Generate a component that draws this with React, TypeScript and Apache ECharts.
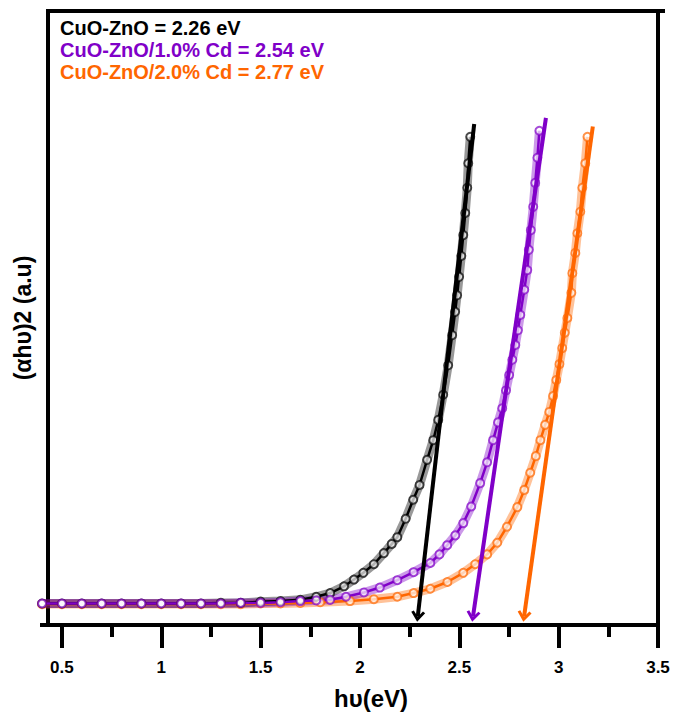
import React, { useEffect, useRef } from 'react';
import * as echarts from 'echarts';

// ---- axis ticks ----
const majorTicks = [0.5, 1, 1.5, 2, 2.5, 3, 3.5];
const minorTicks = [0.75, 1.25, 1.75, 2.25, 2.75, 3.25];

// ---- legend / series info ----
const sampleNames = ['CuO-ZnO', 'CuO-ZnO/1.0% Cd', 'CuO-ZnO/2.0% Cd'];
const bandGaps = ['2.26', '2.54', '2.77'];
const sampleColors = ['#000000', '#8000C8', '#FF6600'];

// ---- measured Tauc data: [hv (eV), (alpha hv)^2 (a.u.)] ----
const cuoZno: [number, number][] = [
  [0.4, 3.5], [0.5, 3.5], [0.6, 3.5], [0.7, 3.5], [0.8, 3.5], [0.9, 3.5], [1.0, 3.5],
  [1.1, 3.5], [1.2, 3.5], [1.3, 3.6], [1.4, 3.6], [1.5, 3.8], [1.6, 3.9], [1.7, 4.1],
  [1.78, 4.6], [1.85, 5.2], [1.92, 6.3], [1.97, 7.4], [2.017, 8.5], [2.07, 9.9],
  [2.12, 11.7], [2.16, 13.2], [2.188, 14.3], [2.23, 17.3], [2.268, 20.4], [2.3, 22.8],
  [2.338, 26.9], [2.369, 30.1], [2.394, 33.4], [2.419, 37.5], [2.444, 42.3], [2.464, 47.2],
  [2.479, 51.0], [2.489, 53.7], [2.499, 56.7], [2.51, 60.1], [2.52, 63.5], [2.53, 67.1],
  [2.54, 71.2], [2.545, 75.2], [2.555, 79.5],
];
const cuoZnoCd1: [number, number][] = [
  [0.4, 3.5], [0.5, 3.5], [0.6, 3.5], [0.7, 3.5], [0.8, 3.5], [0.9, 3.5], [1.0, 3.5],
  [1.1, 3.5], [1.2, 3.5], [1.3, 3.5], [1.4, 3.6], [1.5, 3.6], [1.6, 3.7], [1.7, 3.9],
  [1.78, 4.0], [1.85, 4.1], [1.93, 4.6], [2.02, 5.3], [2.1, 6.1], [2.188, 7.3],
  [2.27, 8.6], [2.354, 10.1], [2.4, 11.5], [2.439, 13.0], [2.48, 14.6], [2.52, 16.6],
  [2.56, 19.3], [2.605, 23.1], [2.64, 26.5], [2.67, 30.1], [2.695, 33.0], [2.716, 35.3],
  [2.735, 38.2], [2.751, 40.7], [2.767, 43.2], [2.782, 45.6], [2.795, 48.0], [2.807, 50.5],
  [2.827, 54.6], [2.842, 57.8], [2.85, 61.1], [2.86, 64.3], [2.872, 68.1], [2.882, 72.0],
  [2.893, 76.1], [2.903, 80.5],
];
const cuoZnoCd2: [number, number][] = [
  [0.4, 3.4], [0.5, 3.4], [0.6, 3.4], [0.7, 3.4], [0.8, 3.4], [0.9, 3.4], [1.0, 3.4],
  [1.1, 3.4], [1.2, 3.4], [1.3, 3.4], [1.4, 3.4], [1.5, 3.5], [1.6, 3.5], [1.7, 3.6],
  [1.8, 3.7], [1.95, 3.9], [2.07, 4.2], [2.188, 4.6], [2.27, 5.2], [2.354, 5.9],
  [2.44, 7.0], [2.52, 8.5], [2.58, 9.9], [2.64, 11.5], [2.691, 13.4], [2.74, 16.0],
  [2.792, 19.2], [2.827, 22.0], [2.857, 24.8], [2.885, 27.5], [2.908, 30.1], [2.932, 32.6],
  [2.953, 34.7], [2.972, 37.3], [2.988, 39.9], [3.004, 42.5], [3.018, 45.1], [3.031, 47.6],
  [3.044, 50.0], [3.064, 54.1], [3.069, 57.3], [3.084, 60.6], [3.094, 63.8], [3.109, 67.3],
  [3.119, 71.2], [3.134, 75.2], [3.145, 79.5],
];

// ---- linear extrapolation lines (start, arrow end) ----
const fitCuoZno: [number, number][] = [[2.575, 81.6], [2.291, 1.4]];
const fitCd1: [number, number][] = [[2.936, 82.6], [2.569, 1.4]];
const fitCd2: [number, number][] = [[3.172, 81.2], [2.826, 1.4]];

const FONT = '"Liberation Sans", Arial, sans-serif';
const chevron = 'path://M5,0 L10,8 L8.3,9.4 L5,4.4 L1.7,9.4 L0,8 Z';

export default function App() {
  const ref = useRef<HTMLDivElement>(null);

  useEffect(() => {
    document.body.style.margin = '0';
    if (!ref.current) return;
    const chart = echarts.init(ref.current, null, { renderer: 'svg' });

    const datasets = [cuoZno, cuoZnoCd1, cuoZnoCd2];
    const fits = [fitCuoZno, fitCd1, fitCd2];
    const drawOrder = [2, 0, 1];

    const bandSeries = drawOrder.map((i) => ({
      type: 'line',
      name: sampleNames[i] + ' band',
      data: datasets[i],
      showSymbol: false,
      clip: false,
      silent: true,
      z: 2,
      lineStyle: { color: sampleColors[i], width: 9, opacity: 0.4 },
    }));
    const pointSeries = drawOrder.map((i) => ({
      type: 'line',
      name: sampleNames[i],
      data: datasets[i],
      symbol: 'emptyCircle',
      symbolSize: 8,
      showAllSymbol: true,
      clip: false,
      z: 3,
      itemStyle: { color: sampleColors[i], borderColor: sampleColors[i], borderWidth: 1, opacity: 0.7 },
      lineStyle: { color: sampleColors[i], width: 2.5 },
    }));
    const fitSeries = [0, 1, 2].map((i) => ({
      type: 'line',
      name: sampleNames[i] + ' fit',
      data: [],
      z: 5,
      markLine: {
        silent: true,
        symbol: ['none', chevron],
        symbolSize: [14, 11],
        label: { show: false },
        lineStyle: { color: sampleColors[i], width: 4, type: 'solid' },
        data: [[{ coord: fits[i][0] }, { coord: fits[i][1] }]],
      },
    }));

    chart.setOption({
      animation: false,
      grid: {
        left: 48, right: 28, top: 11, bottom: 96,
        show: true, borderColor: '#000', borderWidth: 4, backgroundColor: 'transparent',
      },
      xAxis: [
        {
          type: 'value', min: 0.43, max: 3.5, position: 'bottom',
          axisLine: { show: true, lineStyle: { color: '#000', width: 4 } },
          axisTick: { show: true, inside: false, length: 23, customValues: majorTicks, lineStyle: { color: '#000', width: 4 } },
          axisLabel: {
            show: true, customValues: majorTicks, margin: 34,
            color: '#000', fontSize: 17, fontWeight: 'bold', fontFamily: FONT,
          },
          splitLine: { show: false },
        },
        {
          type: 'value', min: 0.43, max: 3.5, position: 'bottom',
          axisLine: { show: false },
          axisTick: { show: true, inside: false, length: 12, customValues: minorTicks, lineStyle: { color: '#000', width: 4 } },
          axisLabel: { show: false },
          splitLine: { show: false },
        },
      ],
      yAxis: {
        type: 'value', min: 0, max: 100,
        axisLine: { show: true, lineStyle: { color: '#000', width: 4 } },
        axisTick: { show: false },
        axisLabel: { show: false },
        splitLine: { show: false },
      },
      series: [...bandSeries, ...pointSeries, ...fitSeries],
      graphic: [
        { type: 'line', shape: { x1: 40, y1: 625, x2: 48, y2: 625 }, style: { stroke: '#000', lineWidth: 4 } },
        { type: 'line', shape: { x1: 656, y1: 11, x2: 665, y2: 11 }, style: { stroke: '#000', lineWidth: 4 } },
        ...[0, 1, 2].map((i) => ({
          type: 'text',
          x: 60,
          y: 28 + i * 22,
          style: {
            text: `${sampleNames[i]} = ${bandGaps[i]} eV`,
            fill: sampleColors[i],
            fontSize: 20, fontWeight: 'bold', fontFamily: FONT,
            align: 'left', verticalAlign: 'middle',
          },
        })),
        {
          type: 'text', x: 371, y: 698,
          style: {
            text: 'h\u03C5(eV)', fill: '#000',
            fontSize: 24, fontWeight: 'bold', fontFamily: FONT,
            align: 'center', verticalAlign: 'middle',
          },
        },
        {
          type: 'text', x: 23, y: 318, rotation: Math.PI / 2,
          style: {
            text: '(\u03B1h\u03C5)2 (a.u)', fill: '#000',
            fontSize: 23, fontWeight: 'bold', fontFamily: FONT,
            align: 'center', verticalAlign: 'middle',
          },
        },
      ],
    });

    return () => chart.dispose();
  }, []);

  return <div ref={ref} style={{ width: 686, height: 721 }} />;
}
